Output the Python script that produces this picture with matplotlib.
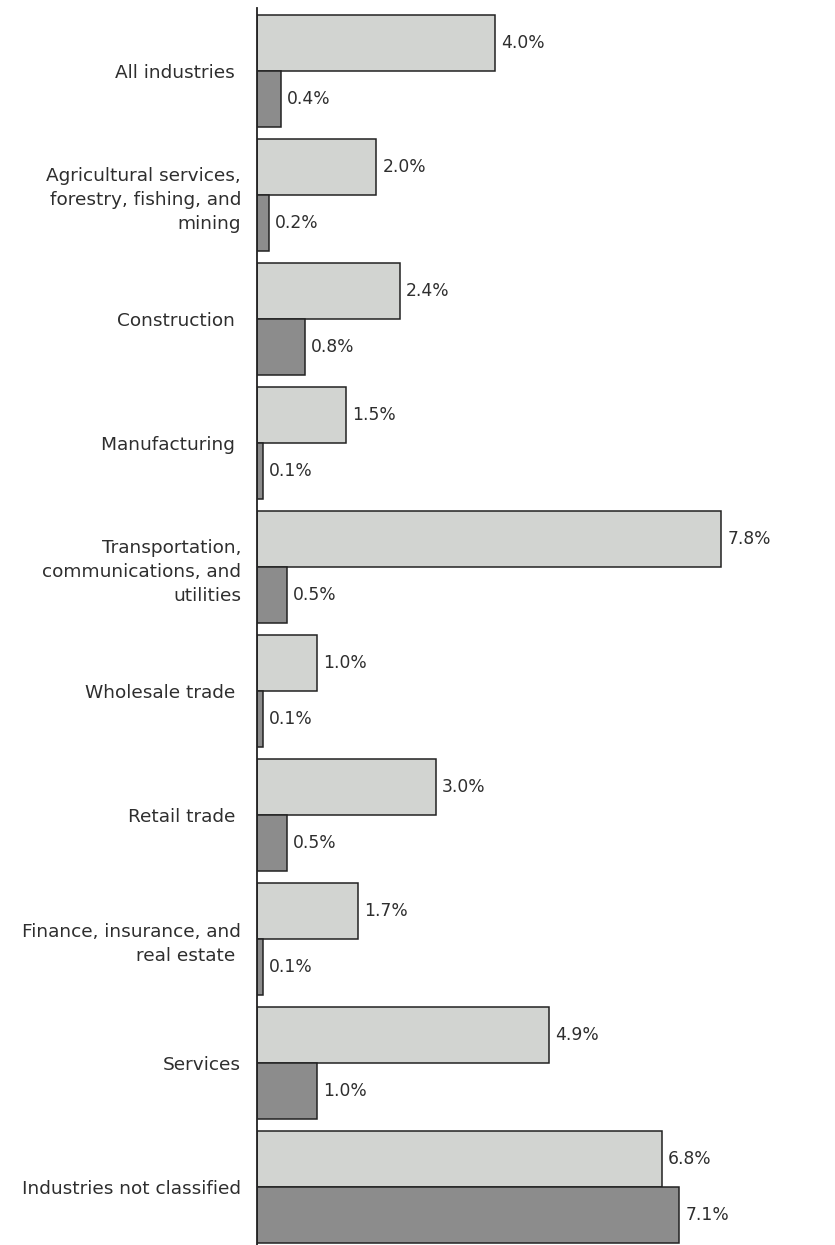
import matplotlib
matplotlib.use("Agg")
import matplotlib.pyplot as plt
import numpy as np

categories = [
    "All industries ",
    "Agricultural services,\nforestry, fishing, and\nmining",
    "Construction ",
    "Manufacturing ",
    "Transportation,\ncommunications, and\nutilities",
    "Wholesale trade ",
    "Retail trade ",
    "Finance, insurance, and\nreal estate ",
    "Services",
    "Industries not classified",
]
series_a = [4.0, 2.0, 2.4, 1.5, 7.8, 1.0, 3.0, 1.7, 4.9, 6.8]
series_b = [0.4, 0.2, 0.8, 0.1, 0.5, 0.1, 0.5, 0.1, 1.0, 7.1]

W, H = 835, 1245
fig = plt.figure(figsize=(W / 100, H / 100), dpi=100)
ax = fig.add_axes([257 / W, 0, 1 - 257 / W, 1 - 8 / H])

y = np.arange(len(categories))
h = 0.4516
edge = "#222222"
text_color = "#2e2e2e"
ax.barh(y - h / 2, series_a, height=h, color="#d2d4d1", edgecolor=edge, linewidth=1.1)
ax.barh(y + h / 2, series_b, height=h, color="#8c8c8c", edgecolor=edge, linewidth=1.1)

ax.set_xlim(0, (W - 257) / 59.5)
ax.set_ylim(9.468, -0.508)

for yi, v in zip(y - h / 2, series_a):
    ax.annotate(f"{v:.1f}%", (v, yi), xytext=(4.5, 0), textcoords="offset points",
                va="center", ha="left", fontsize=12.3, color=text_color)
for yi, v in zip(y + h / 2, series_b):
    ax.annotate(f"{v:.1f}%", (v, yi), xytext=(4.5, 0), textcoords="offset points",
                va="center", ha="left", fontsize=12.3, color=text_color)

ax.set_yticks(y)
ax.set_yticklabels(categories, fontsize=13.3, color=text_color, ha="right",
                   multialignment="right", linespacing=1.44)
ax.tick_params(axis="y", length=0, pad=11.5)
ax.set_xticks([])
for s in ["top", "right", "bottom"]:
    ax.spines[s].set_visible(False)
ax.spines["left"].set_linewidth(1.3)
ax.spines["left"].set_color("#222222")

fig.savefig("out.png", dpi=100)
